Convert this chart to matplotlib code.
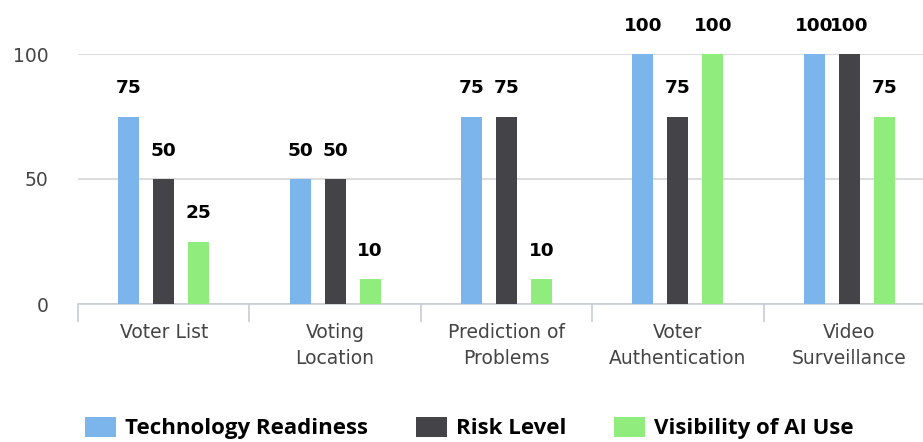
import matplotlib
matplotlib.use("Agg")
import matplotlib.pyplot as plt
from matplotlib.patches import Patch
import numpy as np

categories = ["Voter List", "Voting\nLocation", "Prediction of\nProblems", "Voter\nAuthentication", "Video\nSurveillance"]
series_names = ["Technology Readiness", "Risk Level", "Visibility of AI Use"]
tech_readiness = [75, 50, 75, 100, 100]
risk_level = [50, 50, 75, 75, 100]
visibility_ai = [25, 10, 10, 100, 75]
colors = ["#7cb5ec", "#434348", "#90ed7d"]
y_ticks = [0, 50, 100]

W, H = 923, 442
fig = plt.figure(figsize=(W / 100, H / 100), dpi=100)
ax = fig.add_axes([78 / W, 1 - 304 / H, (935 - 78) / W, (304 - 54) / H])

x = np.arange(len(categories))
offsets = [-0.204, 0.0, 0.204]
bw = 0.123
for vals, off, col in zip([tech_readiness, risk_level, visibility_ai], offsets, colors):
    ax.bar(x + off, vals, width=bw, color=col, zorder=3)
    for xi, v in zip(x + off, vals):
        ax.annotate(str(v), (xi, v), xytext=(0, 14), textcoords="offset points",
                    ha="center", va="bottom", fontsize=13.3, fontweight="bold",
                    family="DejaVu Sans", color="#000000", annotation_clip=False)

ax.set_xlim(-0.5, len(categories) - 0.5)
ax.set_ylim(0, 100)
ax.set_yticks(y_ticks)
ax.set_yticklabels([str(t) for t in y_ticks], fontsize=13.5, color="#444444", family="DejaVu Sans")
ax.yaxis.grid(True, color="#d6d6d6", linewidth=1.2, zorder=0)
ax.set_axisbelow(True)
ax.tick_params(axis="y", length=0, pad=21.5)

ax.set_xticks(x)
ax.set_xticklabels(categories, fontsize=13.5, color="#444444", family="DejaVu Sans", linespacing=1.45)
ax.set_xticks(np.arange(-0.5, len(categories), 1.0), minor=True)
ax.tick_params(axis="x", which="major", length=0, pad=14)
ax.tick_params(axis="x", which="minor", length=13, color="#c8ccd4", width=1.2)

for s in ["top", "right", "left"]:
    ax.spines[s].set_visible(False)
ax.spines["bottom"].set_color("#c8ccd4")
ax.spines["bottom"].set_linewidth(1.2)

handles = [Patch(facecolor=c, edgecolor="none") for c in colors]
fig.legend(handles, series_names, loc="center", bbox_to_anchor=(469 / W, 1 - 428 / H),
           ncol=3, frameon=False, prop={"family": "Open Sans", "weight": "bold", "size": 16},
           handlelength=1.4, handleheight=1.0, handletextpad=0.4, columnspacing=2.15)

fig.savefig("out.png", dpi=100)
